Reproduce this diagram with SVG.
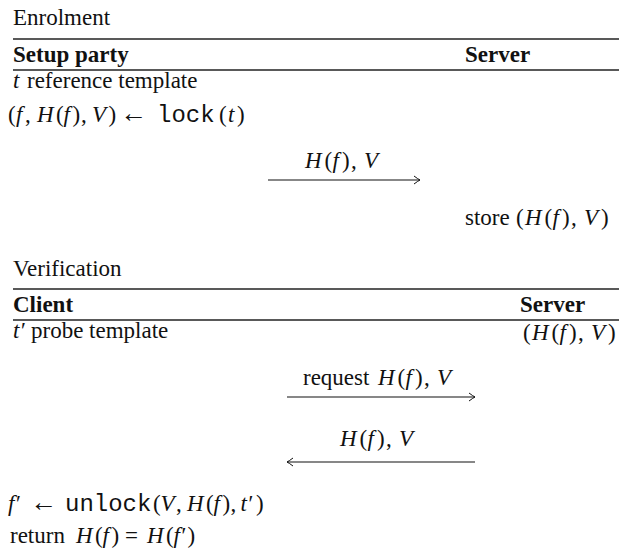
<svg xmlns="http://www.w3.org/2000/svg" width="619" height="552" viewBox="0 0 619 552">
<style>
text{font-family:"Liberation Serif","Times New Roman",serif;font-size:23px;fill:#111}
.b{font-weight:bold}
.i{font-style:italic}
.m{font-family:"Liberation Mono","Courier New",monospace;font-size:24px}
.ar{font-size:27px}
.rule{stroke:#222;stroke-width:1.3}
.conn{stroke:#111;stroke-width:1.2;fill:none}
</style>
<defs>
<marker id="ah" viewBox="-8 -5 10 10" markerWidth="10" markerHeight="10" refX="0" refY="0" orient="auto" markerUnits="userSpaceOnUse">
<path d="M-6,-4 Q-2,-1 0,0 Q-2,1 -6,4" fill="none" stroke="#111" stroke-width="1"/>
</marker>
</defs>
<g id="enrolment">
<text x="13" y="25">Enrolment</text>
<line class="rule" x1="13" y1="39" x2="619" y2="39"/>
<text class="b" x="13" y="62">Setup party</text>
<text class="b" x="465" y="62">Server</text>
<line class="rule" x1="13" y1="70" x2="619" y2="70"/>
</g>
<g id="setup-party">
<text y="88"><tspan class="i" x="13">t</tspan><tspan x="27">reference template</tspan></text>
<text y="122"><tspan x="8">(</tspan><tspan class="i" x="16">f</tspan><tspan x="25">,</tspan><tspan class="i" x="37">H</tspan><tspan x="56">(</tspan><tspan class="i" x="63.5">f</tspan><tspan x="72.5">)</tspan><tspan x="81">,</tspan><tspan class="i" x="92">V</tspan><tspan x="108.5">)</tspan><tspan class="ar" x="120">←</tspan><tspan class="m" x="157">lock</tspan><tspan x="219">(</tspan><tspan class="i" x="228">t</tspan><tspan x="237">)</tspan></text>
</g>
<g id="server-enrol">
<text y="225"><tspan x="465">store</tspan><tspan x="516">(</tspan><tspan class="i" x="525">H</tspan><tspan x="544.5">(</tspan><tspan class="i" x="552.5">f</tspan><tspan x="562">)</tspan><tspan x="571">,</tspan><tspan class="i" x="584">V</tspan><tspan x="601">)</tspan></text>
</g>
<g id="verification">
<text x="13" y="276">Verification</text>
<line class="rule" x1="13" y1="289" x2="619" y2="289"/>
<text class="b" x="13" y="312">Client</text>
<text class="b" x="520" y="312">Server</text>
<line class="rule" x1="13" y1="320" x2="619" y2="320"/>
</g>
<g id="client">
<text y="338"><tspan class="i" x="13">t′</tspan><tspan x="31">probe template</tspan></text>
<text y="511"><tspan class="i" x="8">f′</tspan><tspan class="ar" x="30">←</tspan><tspan class="m" x="65">unlock</tspan><tspan x="153">(</tspan><tspan class="i" x="160.5">V</tspan><tspan x="176">,</tspan><tspan class="i" x="187">H</tspan><tspan x="206">(</tspan><tspan class="i" x="213.5">f</tspan><tspan x="222.5">)</tspan><tspan x="230.5">,</tspan><tspan class="i" x="240.5">t′</tspan><tspan x="256">)</tspan></text>
<text y="543"><tspan x="10">return</tspan><tspan class="i" x="76">H</tspan><tspan x="95">(</tspan><tspan class="i" x="102.5">f</tspan><tspan x="111.5">)</tspan><tspan x="125">=</tspan><tspan class="i" x="147">H</tspan><tspan x="166">(</tspan><tspan class="i" x="173.5">f′</tspan><tspan x="187.5">)</tspan></text>
</g>
<g id="server-verify">
<text y="340"><tspan x="523">(</tspan><tspan class="i" x="532">H</tspan><tspan x="551.5">(</tspan><tspan class="i" x="559.5">f</tspan><tspan x="569">)</tspan><tspan x="578">,</tspan><tspan class="i" x="591">V</tspan><tspan x="608">)</tspan></text>
</g>
<g id="connectors">
<line class="conn" x1="268" y1="180" x2="420" y2="180" marker-end="url(#ah)"/>
<text y="168"><tspan class="i" x="305">H</tspan><tspan x="324.5">(</tspan><tspan class="i" x="332.5">f</tspan><tspan x="342">)</tspan><tspan x="351">,</tspan><tspan class="i" x="364">V</tspan></text>
<line class="conn" x1="287" y1="397" x2="475" y2="397" marker-end="url(#ah)"/>
<text y="385"><tspan x="303">request</tspan><tspan class="i" x="378">H</tspan><tspan x="397.5">(</tspan><tspan class="i" x="405.5">f</tspan><tspan x="415">)</tspan><tspan x="424">,</tspan><tspan class="i" x="437">V</tspan></text>
<line class="conn" x1="475" y1="462" x2="287" y2="462" marker-end="url(#ah)"/>
<text y="446"><tspan class="i" x="340">H</tspan><tspan x="359.5">(</tspan><tspan class="i" x="367.5">f</tspan><tspan x="377">)</tspan><tspan x="386">,</tspan><tspan class="i" x="399">V</tspan></text>
</g>
</svg>
